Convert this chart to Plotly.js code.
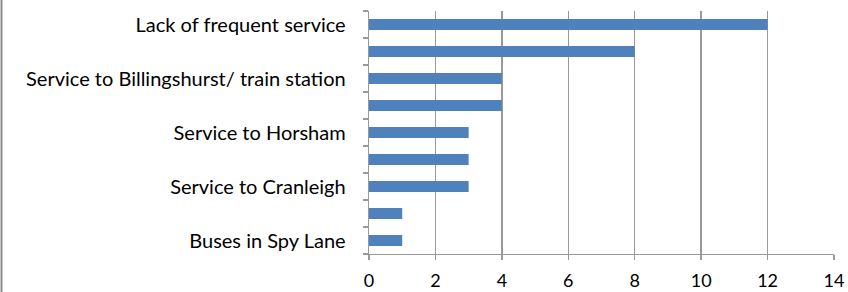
<!DOCTYPE html>
<html>
<head>
<meta charset="utf-8">
<script src="https://cdn.plot.ly/plotly-3.0.1.min.js"></script>
<style>
  html, body { margin: 0; padding: 0; background: #fff; }
  #chart { width: 848px; height: 292px; }
</style>
</head>
<body>
<div id="chart"></div>
<script>
// Categories, bottom to top (Excel order)
const categories = [
  "Buses in Spy Lane",
  "(unlabelled A)",
  "Service to Cranleigh",
  "(unlabelled B)",
  "Service to Horsham",
  "(unlabelled C)",
  "Service to Billingshurst/ train station",
  "(unlabelled D)",
  "Lack of frequent service"
];
const tickLabels = [
  "Buses in Spy Lane",
  "",
  "Service to Cranleigh",
  "",
  "Service to Horsham",
  "",
  "Service to Billingshurst/ train station",
  "",
  "Lack of frequent service"
];
const values = [1, 1, 3, 3, 3, 4, 4, 8, 12];
const xTicks = [0, 2, 4, 6, 8, 10, 12, 14];

const W = 848, H = 292;
const margin = { l: 369, r: 14, t: 11, b: 38 };
const plotW = W - margin.l - margin.r;

const trace = {
  type: "bar",
  orientation: "h",
  x: values,
  y: categories,
  marker: { color: "#4f81bd", line: { width: 0 } },
  hoverinfo: "x+y"
};

const yFont = { family: "Lato, 'Liberation Sans', sans-serif", size: 20, color: "#000" };
const xFont = { family: "Lato, 'Liberation Sans', sans-serif", size: 18, color: "#000" };

const layout = {
  width: W,
  height: H,
  margin: margin,
  paper_bgcolor: "#fff",
  plot_bgcolor: "#fff",
  showlegend: false,
  bargap: 0.6,
  font: yFont,
  xaxis: {
    range: [0, 14],
    tickmode: "array",
    tickvals: xTicks,
    ticktext: xTicks.map(String),
    showgrid: true,
    gridcolor: "#999999",
    gridwidth: 1.3,
    zeroline: false,
    showline: true,
    linecolor: "#999999",
    linewidth: 1.3,
    ticks: "outside",
    ticklen: 5,
    tickcolor: "#999999",
    tickwidth: 1.3,
    tickfont: xFont,
    ticklabelstandoff: 5,
    fixedrange: true
  },
  yaxis: {
    type: "category",
    categoryorder: "array",
    categoryarray: categories,
    tickmode: "array",
    tickvals: categories,
    ticktext: tickLabels,
    tickson: "boundaries",
    showgrid: false,
    zeroline: false,
    showline: true,
    linecolor: "#999999",
    linewidth: 1.3,
    ticks: "outside",
    ticklen: 5,
    tickcolor: "#999999",
    tickwidth: 1.3,
    tickfont: yFont,
    ticklabelstandoff: 18,
    fixedrange: true
  },
  shapes: [{
    type: "line",
    xref: "paper", yref: "paper",
    x0: (1.5 - margin.l) / plotW, x1: (1.5 - margin.l) / plotW,
    y0: -margin.b / (H - margin.t - margin.b),
    y1: 1 + margin.t / (H - margin.t - margin.b),
    line: { color: "#8c8c8c", width: 2 },
    layer: "above"
  }]
};

Plotly.newPlot("chart", [trace], layout, { displayModeBar: false, staticPlot: true });
</script>
</body>
</html>
